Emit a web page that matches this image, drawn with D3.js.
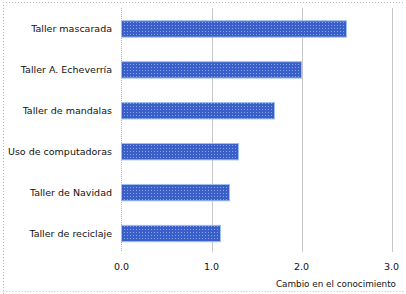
<!DOCTYPE html>
<html><head><meta charset="utf-8">
<script src="https://cdn.jsdelivr.net/npm/d3@7"></script>
<style>body{margin:0;background:#fff}svg{display:block}</style>
</head><body>
<svg id="c" width="406" height="294"></svg>
<script>
const categories = ["Taller mascarada","Taller A. Echeverría","Taller de mandalas","Uso de computadoras","Taller de Navidad","Taller de reciclaje"];
const values = [2.5, 2.0, 1.7, 1.3, 1.2, 1.1];
const ticks = [0, 1, 2, 3];
const axisTitle = "Cambio en el conocimiento";

const svg = d3.select("#c");
const font = "'DejaVu Sans', Verdana, sans-serif";
const x = d3.scaleLinear().domain([0,3]).range([121.5,391.5]);
const y = d3.scaleBand().domain(categories).range([8.5,254]).paddingInner(0.6).paddingOuter(0.3);

const defs = svg.append("defs");
const pat = defs.append("pattern").attr("id","dots").attr("patternUnits","userSpaceOnUse").attr("width",3).attr("height",3);
pat.append("rect").attr("width",3).attr("height",3).attr("fill","#3a5fc8");
pat.append("rect").attr("x",1).attr("y",1).attr("width",1).attr("height",1).attr("fill","#86a4ea");

// outer dotted border
svg.append("path").attr("d","M3.5,294 V2.5 H404").attr("fill","none").attr("stroke","#b8b8b8").attr("stroke-dasharray","1,2");
svg.append("path").attr("d","M3.5,291.5 H404").attr("fill","none").attr("stroke","#b8b8b8").attr("stroke-dasharray","1,2");

// gridlines
svg.append("g").selectAll("line").data(ticks.slice(1)).join("line")
  .attr("x1",d=>Math.round(x(d))+0.5).attr("x2",d=>Math.round(x(d))+0.5)
  .attr("y1",8).attr("y2",252).attr("stroke","#c8c8c8").attr("stroke-width",1);
// zero axis dotted
svg.append("line").attr("x1",121.5).attr("x2",121.5).attr("y1",8).attr("y2",252)
  .attr("stroke","#b0b0b0").attr("stroke-dasharray","1,1");

// bars
svg.append("g").selectAll("rect").data(values).join("rect")
  .attr("x",x(0)).attr("y",(d,i)=>y(categories[i]))
  .attr("width",d=>x(d)-x(0)).attr("height",y.bandwidth())
  .attr("fill","url(#dots)").attr("stroke","#9cc0ee").attr("stroke-width",1);

// category labels
svg.append("g").selectAll("text").data(categories).join("text")
  .attr("x",112).attr("y",d=>y(d)+y.bandwidth()/2).attr("dy","0.35em")
  .attr("text-anchor","end").attr("font-family",font).attr("font-size","9.5px").attr("fill","#111")
  .text(d=>d);

// tick labels
svg.append("g").selectAll("text").data(ticks).join("text")
  .attr("x",d=>x(d)).attr("y",270).attr("text-anchor","middle")
  .attr("font-family",font).attr("font-size","9.5px").attr("fill","#111")
  .text(d=>d.toFixed(1));

svg.append("text").attr("x",396).attr("y",287).attr("text-anchor","end")
  .attr("font-family",font).attr("font-size","8.8px").attr("fill","#111").text(axisTitle);
</script>
</body></html>
